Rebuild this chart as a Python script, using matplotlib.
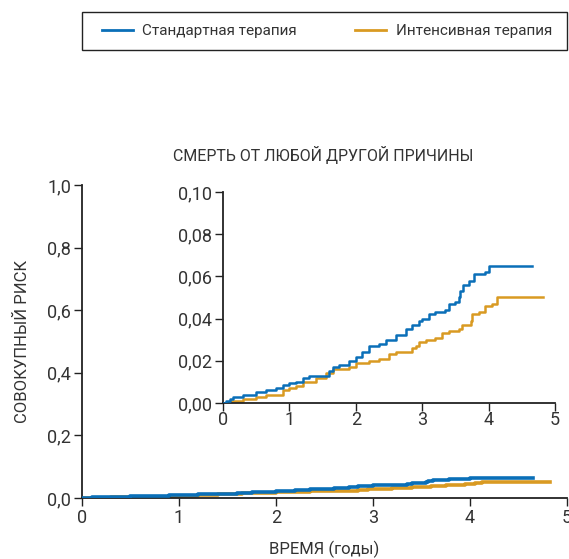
import matplotlib
matplotlib.use("Agg")
import matplotlib.pyplot as plt
import matplotlib.patches as patches
from matplotlib import font_manager

# pick a narrow font if one is installed
names = {f.name for f in font_manager.fontManager.ttflist}
FONT = ["Liberation Sans Narrow", "DejaVu Sans"] if "Liberation Sans Narrow" in names else ["Roboto", "DejaVu Sans"]
plt.rcParams["font.family"] = FONT

BLUE = "#0a6fb8"
ORANGE = "#d99a22"

# step curves (years, cumulative risk)
std_t = [0.0, 0.05, 0.10, 0.15, 0.30, 0.50, 0.65, 0.80, 0.90, 1.00, 1.10, 1.20, 1.30,
         1.60, 1.65, 1.75, 1.90, 2.00, 2.10, 2.20, 2.35, 2.45, 2.60, 2.75, 2.85, 2.95,
         3.00, 3.10, 3.20, 3.35, 3.40, 3.50, 3.55, 3.57, 3.62, 3.70, 3.78, 3.95, 4.00, 4.65]
std_r = [0.0, 0.001, 0.002, 0.003, 0.004, 0.005, 0.006, 0.007, 0.0085, 0.0095, 0.010,
         0.012, 0.013, 0.015, 0.017, 0.018, 0.020, 0.022, 0.024, 0.027, 0.028, 0.030,
         0.032, 0.035, 0.037, 0.039, 0.040, 0.042, 0.043, 0.044, 0.047, 0.048, 0.050,
         0.053, 0.056, 0.058, 0.061, 0.062, 0.065, 0.065]

int_t = [0.0, 0.10, 0.30, 0.50, 0.65, 0.90, 1.00, 1.10, 1.20, 1.40, 1.55, 1.65, 1.90,
         2.00, 2.20, 2.35, 2.50, 2.60, 2.85, 2.90, 2.95, 3.05, 3.20, 3.30, 3.40, 3.55,
         3.60, 3.73, 3.75, 3.85, 3.95, 4.05, 4.12, 4.82]
int_r = [0.0, 0.001, 0.002, 0.003, 0.004, 0.006, 0.007, 0.008, 0.010, 0.012, 0.014,
         0.016, 0.017, 0.019, 0.020, 0.021, 0.023, 0.024, 0.026, 0.027, 0.029, 0.030,
         0.031, 0.033, 0.034, 0.035, 0.037, 0.039, 0.042, 0.043, 0.046, 0.047, 0.050, 0.050]

x_ticks = [0, 1, 2, 3, 4, 5]
main_y_ticks = [0.0, 0.2, 0.4, 0.6, 0.8, 1.0]
main_y_labels = ["0,0", "0,2", "0,4", "0,6", "0,8", "1,0"]
inset_y_ticks = [0.0, 0.02, 0.04, 0.06, 0.08, 0.10]
inset_y_labels = ["0,00", "0,02", "0,04", "0,06", "0,08", "0,10"]

labels = ["Стандартная терапия", "Интенсивная терапия"]
title = "СМЕРТЬ ОТ ЛЮБОЙ ДРУГОЙ ПРИЧИНЫ"
xlabel = "ВРЕМЯ (годы)"
ylabel = "СОВОКУПНЫЙ РИСК"

TXT = "#333333"
W, H = 569, 559


def style_axes(ax, fs):
    for s in ("top", "right"):
        ax.spines[s].set_visible(False)
    for s in ("left", "bottom"):
        ax.spines[s].set_color("#222222")
        ax.spines[s].set_linewidth(1.3)
    ax.tick_params(direction="out", length=6, width=1.0, colors="#222222",
                   labelsize=fs, labelcolor=TXT, pad=2)


fig = plt.figure(figsize=(W / 100, H / 100), dpi=100)

# main axes
ax = fig.add_axes([0.1441, 0.1091, 0.8524, 0.56])
ax.step(std_t, std_r, where="post", color=BLUE, lw=2.6, zorder=3)
ax.step(int_t, int_r, where="post", color=ORANGE, lw=2.6, zorder=2)
ax.set_xlim(0, 5)
ax.set_ylim(0, 1.0)
ax.set_xticks(x_ticks)
ax.set_xticklabels([str(v) for v in x_ticks])
ax.set_yticks(main_y_ticks)
ax.set_yticklabels(main_y_labels)
style_axes(ax, 13)
ax.set_xlabel(xlabel, fontsize=12, color=TXT, labelpad=10)
ax.set_ylabel(ylabel, fontsize=12, color=TXT, labelpad=12)
ax.patch.set_alpha(0)

# inset
ins = fig.add_axes([0.3919, 0.2791, 0.5835, 0.3775])
ins.step(std_t, std_r, where="post", color=BLUE, lw=1.8, zorder=3)
ins.step(int_t, int_r, where="post", color=ORANGE, lw=1.8, zorder=2)
ins.set_xlim(0, 5)
ins.set_ylim(0, 0.10)
ins.set_xticks(x_ticks)
ins.set_xticklabels([str(v) for v in x_ticks])
ins.set_yticks(inset_y_ticks)
ins.set_yticklabels(inset_y_labels)
style_axes(ins, 13)
ins.tick_params(axis="x", pad=0)
ins.patch.set_alpha(0)

fig.text(0.568, 0.722, title, ha="center", va="center", fontsize=11.5, color=TXT)

# legend across the top: frame drawn separately so it spans the axes width
fig.add_artist(patches.Rectangle((82 / W, 1 - 50 / H), 485 / W, 38 / H,
                                 transform=fig.transFigure, fill=False,
                                 edgecolor="#222222", linewidth=1.0))
handles = [plt.Line2D([], [], color=BLUE, lw=2), plt.Line2D([], [], color=ORANGE, lw=2)]
leg = fig.legend(handles, labels, loc="center left", bbox_to_anchor=(102 / W, 1 - 31 / H),
                 ncol=2, fontsize=11, frameon=False, borderpad=0, borderaxespad=0,
                 handlelength=2.0, handletextpad=0.65, columnspacing=3.8)
for t in leg.get_texts():
    t.set_color(TXT)

fig.savefig("out.png", dpi=100)
